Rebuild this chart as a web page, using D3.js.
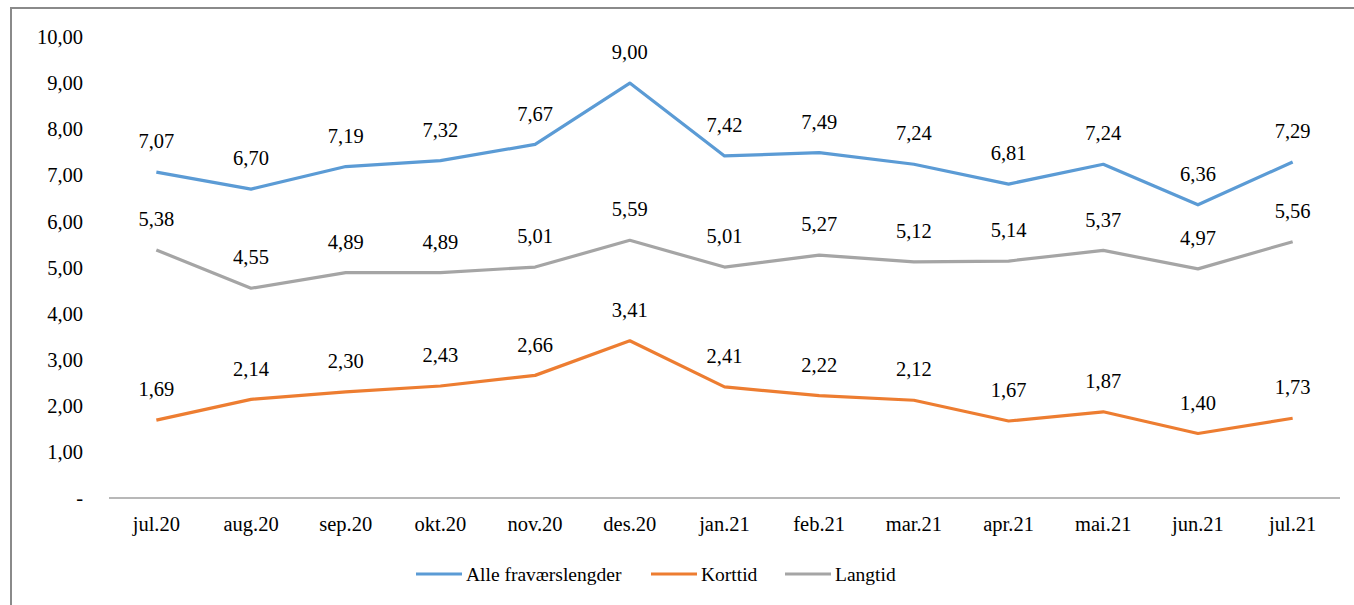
<!DOCTYPE html>
<html>
<head>
<meta charset="utf-8">
<script src="https://cdn.jsdelivr.net/npm/d3@7"></script>
<style>
  html, body { margin: 0; padding: 0; background: #fff; }
  svg { display: block; }
  text { font-family: "Liberation Serif", "DejaVu Serif", serif; fill: #000; }
</style>
</head>
<body>
<svg id="chart" width="1354" height="605"></svg>
<script>
const months = ["jul.20","aug.20","sep.20","okt.20","nov.20","des.20","jan.21","feb.21","mar.21","apr.21","mai.21","jun.21","jul.21"];
const alle    = [7.07,6.70,7.19,7.32,7.67,9.00,7.42,7.49,7.24,6.81,7.24,6.36,7.29];
const korttid = [1.69,2.14,2.30,2.43,2.66,3.41,2.41,2.22,2.12,1.67,1.87,1.40,1.73];
const langtid = [5.38,4.55,4.89,4.89,5.01,5.59,5.01,5.27,5.12,5.14,5.37,4.97,5.56];
const yTicks  = [0,1,2,3,4,5,6,7,8,9,10];
const seriesNames = ["Alle fraværslengder","Korttid","Langtid"];

const series = [
  { name: seriesNames[0], values: alle,    color: "#5B9BD5" },
  { name: seriesNames[1], values: korttid, color: "#ED7D31" },
  { name: seriesNames[2], values: langtid, color: "#A5A5A5" }
];

const svg = d3.select("#chart");
const W = 1354, H = 605;

// outer frame
svg.append("rect")
  .attr("x", 11).attr("y", 8)
  .attr("width", W + 20).attr("height", H + 20)
  .attr("fill", "none").attr("stroke", "#8a8a8a").attr("stroke-width", 2);

const x = d3.scaleBand().domain(months).range([109, 1340]);
const y = d3.scaleLinear().domain([0, 10]).range([498, 37]);
const cx = m => x(m) + x.bandwidth() / 2;

const fmt = v => v === 0 ? "-" : d3.format(".2f")(v).replace(".", ",");
const FS = 20.5;

// y tick labels
svg.append("g").selectAll("text")
  .data(yTicks).join("text")
  .attr("x", 83).attr("y", d => y(d))
  .attr("dy", "0.35em")
  .attr("text-anchor", "end")
  .attr("font-size", FS)
  .text(fmt);

// x axis line
svg.append("line")
  .attr("x1", x.range()[0]).attr("x2", x.range()[1])
  .attr("y1", y(0)).attr("y2", y(0))
  .attr("stroke", "#a0a0a0").attr("stroke-width", 1.5);

// x labels
svg.append("g").selectAll("text")
  .data(months).join("text")
  .attr("x", d => cx(d)).attr("y", 531)
  .attr("text-anchor", "middle")
  .attr("font-size", FS)
  .text(d => d);

const line = d3.line().x((d, i) => cx(months[i])).y(d => y(d));

series.forEach(s => {
  svg.append("path")
    .datum(s.values)
    .attr("d", line)
    .attr("fill", "none")
    .attr("stroke", s.color)
    .attr("stroke-width", 3.2)
    .attr("stroke-linejoin", "round");

  svg.append("g").selectAll("text")
    .data(s.values).join("text")
    .attr("x", (d, i) => cx(months[i]))
    .attr("y", d => y(d) - 31)
    .attr("dy", "0.35em")
    .attr("text-anchor", "middle")
    .attr("font-size", FS)
    .text(fmt);
});

// legend
const legendItems = [
  { x: 416, s: series[0] },
  { x: 651, s: series[1] },
  { x: 785, s: series[2] }
];
const lg = svg.append("g");
legendItems.forEach(it => {
  lg.append("line")
    .attr("x1", it.x).attr("x2", it.x + 46)
    .attr("y1", 574).attr("y2", 574)
    .attr("stroke", it.s.color).attr("stroke-width", 3.2);
  lg.append("text")
    .attr("x", it.x + 50).attr("y", 574)
    .attr("dy", "0.35em")
    .attr("font-size", 19.5)
    .text(it.s.name);
});
</script>
</body>
</html>
